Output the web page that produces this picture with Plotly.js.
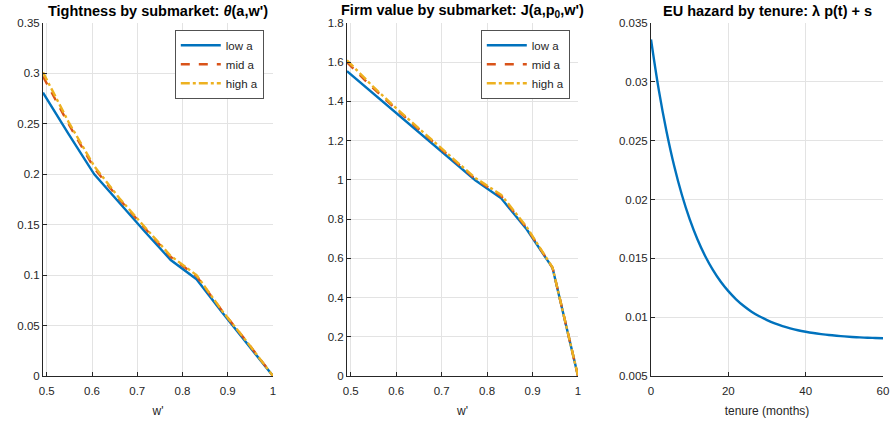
<!DOCTYPE html>
<html><head><meta charset="utf-8">
<script src="https://cdn.plot.ly/plotly-3.0.1.min.js"></script>
<style>html,body{margin:0;padding:0;background:#fff}#plot{width:890px;height:423px}</style>
</head><body><div id="plot"></div>
<script>
// w' grid (submarkets)
const wGrid = [0.4917, 0.548, 0.605, 0.661, 0.718, 0.774, 0.831, 0.887, 0.944, 1.0];
// Tightness theta(a,w')
const thetaLow  = [0.281, 0.240, 0.200, 0.171, 0.1425, 0.115, 0.096, 0.0635, 0.032, 0];
const thetaMid  = [0.297, 0.250, 0.206, 0.175, 0.146, 0.118, 0.099, 0.065, 0.033, 0];
const thetaHigh = [0.301, 0.252, 0.208, 0.176, 0.147, 0.119, 0.100, 0.065, 0.033, 0];
// Firm value J(a,p0,w')
const jLow  = [1.555, 1.444, 1.333, 1.222, 1.110, 0.998, 0.906, 0.748, 0.551, 0];
const jMid  = [1.600, 1.470, 1.350, 1.233, 1.118, 1.005, 0.918, 0.755, 0.552, 0];
const jHigh = [1.610, 1.478, 1.355, 1.238, 1.123, 1.010, 0.924, 0.760, 0.553, 0];
// EU hazard by tenure
const tenure = [0,2,4,6,8,10,12,14,16,18,20,22,24,26,28,30,32,34,36,38,40,42,44,46,48,50,52,54,56,58,60];
const hazard = [0.0336,0.02934,0.02580,0.02284,0.02038,0.01833,0.01662,0.01520,0.01402,0.01303,0.01221,
  0.01152,0.01095,0.01047,0.01008,0.00975,0.00947,0.00924,0.00905,0.00889,0.00876,0.00865,0.00856,
  0.00848,0.00842,0.00837,0.00832,0.00828,0.00825,0.00823,0.00821];
const seriesNames = ['low a', 'mid a', 'high a'];
const titles = ['Tightness by submarket: <i>θ</i>(a,w\')', 'Firm value by submarket: J(a,p<sub>0</sub>,w\')', 'EU hazard by tenure: λ p(t) + s'];
const xTitles = ["w'", "w'", 'tenure (months)'];
const wTicks = [0.5, 0.6, 0.7, 0.8, 0.9, 1];
const wTickText = ['0.5', '0.6', '0.7', '0.8', '0.9', '1'];
const thTicks = [0, 0.05, 0.1, 0.15, 0.2, 0.25, 0.3, 0.35];
const thTickText = ['0', '0.05', '0.1', '0.15', '0.2', '0.25', '0.3', '0.35'];
const jTicks = [0, 0.2, 0.4, 0.6, 0.8, 1, 1.2, 1.4, 1.6, 1.8];
const jTickText = ['0', '0.2', '0.4', '0.6', '0.8', '1', '1.2', '1.4', '1.6', '1.8'];
const tTicks = [0, 20, 40, 60];
const tTickText = ['0', '20', '40', '60'];
const hTicks = [0.005, 0.01, 0.015, 0.02, 0.025, 0.03, 0.035];
const hTickText = ['0.005', '0.01', '0.015', '0.02', '0.025', '0.03', '0.035'];

const C = ['#0072BD', '#D95319', '#EDB120'];
const dashes = ['solid', 'dash', 'dashdot'];
const traces = [];
[thetaLow, thetaMid, thetaHigh].forEach((y, i) => traces.push({
  x: wGrid, y: y, type: 'scatter', mode: 'lines', name: seriesNames[i],
  line: {color: C[i], width: 2.4, dash: dashes[i]}, xaxis: 'x', yaxis: 'y', legend: 'legend'}));
[jLow, jMid, jHigh].forEach((y, i) => traces.push({
  x: wGrid, y: y, type: 'scatter', mode: 'lines', name: seriesNames[i],
  line: {color: C[i], width: 2.4, dash: dashes[i]}, xaxis: 'x2', yaxis: 'y2', legend: 'legend2'}));
traces.push({x: tenure, y: hazard, type: 'scatter', mode: 'lines', showlegend: false,
  line: {color: C[0], width: 2.4, shape: 'spline'}, xaxis: 'x3', yaxis: 'y3'});

const font = {family: 'Liberation Sans, Arial, sans-serif', size: 11.5, color: '#262626'};
const ydom = [1 - 376/423, 1 - 23/423];
const xdoms = [[43/890, 273/890], [347/890, 578/890], [651/890, 883/890]];
function xa(dom, range, tv, tt, title, anchor) {
  return {domain: dom, range: range, tickvals: tv, ticktext: tt, showgrid: true, gridcolor: '#e3e3e3',
    gridwidth: 1, zeroline: false, showline: true, linecolor: '#262626', linewidth: 1,
    ticks: 'inside', ticklen: 4, tickcolor: '#262626', tickfont: font, anchor: anchor, ticklabelstandoff: 4,
    title: {text: title, font: {family: font.family, size: 12, color: '#262626'}, standoff: 10}, automargin: false};
}
function ya(range, tv, tt, anchor) {
  return {domain: ydom, range: range, tickvals: tv, ticktext: tt, showgrid: true, gridcolor: '#e3e3e3',
    gridwidth: 1, zeroline: false, showline: true, linecolor: '#262626', linewidth: 1,
    ticks: 'inside', ticklen: 4, tickcolor: '#262626', tickfont: font, anchor: anchor, automargin: false};
}
const legendStyle = (x) => ({x: x, y: 1 - 30/423, xanchor: 'left', yanchor: 'top', xref: 'paper', yref: 'paper',
  bgcolor: '#ffffff', bordercolor: '#262626', borderwidth: 0.8, font: font, itemwidth: 40,
  tracegroupgap: 0, itemclick: false});
const layout = {
  width: 890, height: 423, margin: {l: 0, r: 0, t: 0, b: 0}, paper_bgcolor: '#fff', plot_bgcolor: '#fff',
  font: font,
  xaxis: xa(xdoms[0], [0.4917, 1], wTicks, wTickText, xTitles[0], 'y'),
  yaxis: ya([0, 0.35], thTicks, thTickText, 'x'),
  xaxis2: xa(xdoms[1], [0.4917, 1], wTicks, wTickText, xTitles[1], 'y2'),
  yaxis2: ya([0, 1.8], jTicks, jTickText, 'x2'),
  xaxis3: xa(xdoms[2], [0, 60], tTicks, tTickText, xTitles[2], 'y3'),
  yaxis3: ya([0.005, 0.035], hTicks, hTickText, 'x3'),
  legend: legendStyle(175/890),
  legend2: legendStyle(481/890),
  annotations: titles.map((t, i) => ({text: '<b>' + t + '</b>', xref: 'paper', yref: 'paper',
    x: (xdoms[i][0] + xdoms[i][1]) / 2, y: 1 - 11/423, xanchor: 'center', yanchor: 'middle', showarrow: false,
    font: {family: font.family, size: 14.5, color: '#000'}}))
};
Plotly.newPlot('plot', traces, layout, {staticPlot: true, displayModeBar: false});
</script></body></html>
